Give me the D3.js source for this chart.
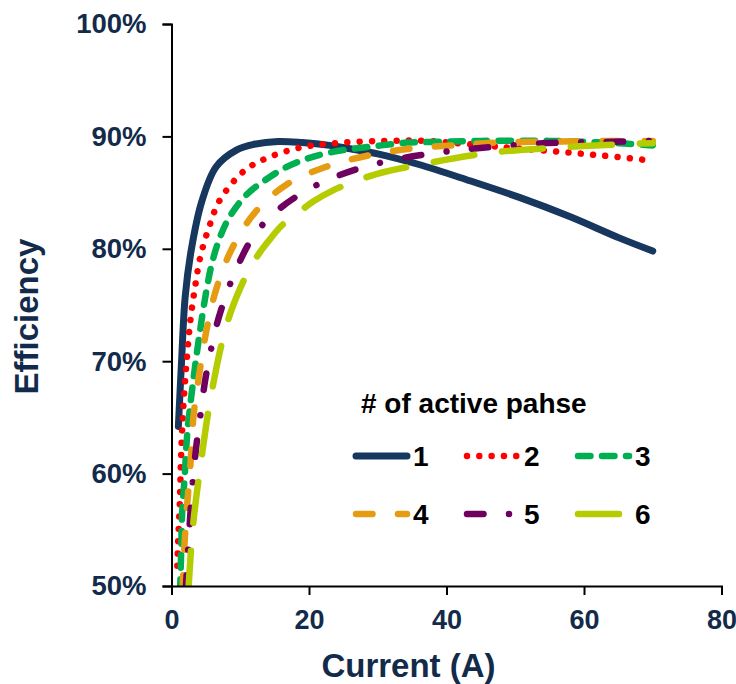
<!DOCTYPE html>
<html>
<head>
<meta charset="utf-8">
<script src="https://cdn.jsdelivr.net/npm/d3@7"></script>
<style>
  body { margin: 0; background: #fff; }
  svg text { font-family: "Liberation Sans", Arial, sans-serif; font-weight: bold; }
  .axis path, .axis line { stroke: #000; stroke-width: 2px; }
  .axis text { fill: #132b4a; font-size: 27.5px; }
  .xaxis text { font-size: 27px; }
</style>
</head>
<body>
<svg id="chart" width="736" height="684"></svg>
<script>

///////  Data: [current (A), efficiency (%)] ///////

var phase1 = [[1, 64.2], [1.45, 69.8], [2, 75.8], [2.9, 80], [4.4, 84.2], [6.5, 87.3], [9.5, 88.8],
    [12, 89.3], [15.5, 89.55], [19, 89.45], [23, 89.2], [26, 88.9], [30, 88.45], [36, 87.5],
    [43.4, 86.05], [50.7, 84.55], [58, 82.85], [65.2, 80.95], [70, 79.8]];
var phase2 = [[0.85, 51.8], [0.96, 53.9], [1.2, 57.3], [1.35, 60.6], [1.54, 63.8], [1.84, 67.1],
    [2.27, 70.5], [2.76, 73.7], [3.4, 76.5], [4.2, 79.3], [5.5, 82], [7, 84.3], [10.5, 86.9],
    [13.6, 88.0], [18.7, 89.0], [24, 89.4], [31, 89.6], [37, 89.6], [43.4, 89.3], [51, 88.9],
    [61.7, 88.35], [69, 87.9]];
var phase3 = [[1.25, 49.5], [1.4, 52.9], [1.55, 56.5], [1.9, 59.6], [2.3, 63.6], [3.15, 68.2],
    [4.1, 72.5], [5.2, 76.7], [6.0, 79.0], [7.1, 81.1], [8.5, 82.9], [10.9, 84.8], [13.6, 86.1],
    [16.5, 87.2], [19.6, 88.0], [23.3, 88.6], [27, 88.95], [30.5, 89.2], [34.2, 89.45], [38, 89.5],
    [45, 89.6], [55, 89.6], [63, 89.45], [70, 89.2]];
var phase4 = [[1.6, 49.5], [1.9, 53.8], [2.3, 57.4], [2.8, 61.2], [3.2, 65.1], [3.95, 68.5],
    [5.1, 72.8], [6.5, 76.4], [8.7, 79.9], [12.1, 83.2], [16.7, 85.7], [22.5, 87.3], [28.6, 88.3],
    [34.7, 88.9], [41, 89.2], [47.5, 89.45], [56, 89.55], [65, 89.6], [70, 89.6]];
var phase5 = [[2.05, 49.5], [2.35, 52.5], [2.7, 56], [3.1, 59.3], [3.6, 62.4], [4.2, 65.2],
    [4.9, 68.3], [5.7, 70.9], [6.6, 73.3], [8, 76], [9.5, 78.3], [11.9, 81.1], [15, 83.2],
    [19.1, 85.0], [23.4, 86.3], [28.1, 87.3], [33, 88.0], [38, 88.5], [42.8, 88.85], [47.6, 89.1],
    [52.6, 89.35], [57.7, 89.45], [63, 89.5], [70, 89.6]];
var phase6 = [[2.45, 49.5], [3.1, 55.2], [4.35, 61.3], [5.8, 67.1], [8, 73.2], [10, 76.5],
    [12, 78.9], [14, 80.6], [16, 82.05], [18, 83.0], [20.6, 84.2], [23.5, 85.2], [26.7, 86.0],
    [29.8, 86.65], [36.2, 87.5], [45.8, 88.5], [55.8, 89.0], [65.7, 89.3], [70, 89.4]];

var seriesNames = ["1", "2", "3", "4", "5", "6"];
var xTicks = [0, 20, 40, 60, 80];
var yTicks = [50, 60, 70, 80, 90, 100];

// line look for each series (Excel dash styles)
var styles = [
    {color: "#17375e", width: 7, dash: null},
    {color: "#ff0000", width: 6.5, dash: "0.01 12.3"},
    {color: "#00b050", width: 6.5, dash: "12.5 11.5"},
    {color: "#e69c12", width: 6.5, dash: "16.5 25.5"},
    {color: "#700060", width: 6.5, dash: "16.5 25.5 0.01 25.5"},
    {color: "#b4cc00", width: 6.5, dash: "41 28"}
];

var allSeries = [phase1, phase2, phase3, phase4, phase5, phase6];


///////  Frame ///////

var svg = d3.select("#chart"),
margin = {top: 24, left: 171.5},
width = 550,
height = 562;

var x = d3.scaleLinear().domain([0, 80]).range([margin.left, margin.left + width]),
y = d3.scaleLinear().domain([50, 100]).range([margin.top + height, margin.top]);

svg.append("defs").append("clipPath")
.attr("id", "clip")
.append("rect")
.attr("x", margin.left)
.attr("y", margin.top)
.attr("width", width)
.attr("height", height);

var line = d3.line()
            .curve(d3.curveCatmullRom.alpha(0.5))
            .x(function(d) { return x(d[0]); })
            .y(function(d) { return y(d[1]); });


///////  Curves ///////

var plot = svg.append("g").attr("clip-path", "url(#clip)");

allSeries.forEach(function(data, i) {
    plot.append("path")
        .datum(data)
        .attr("fill", "none")
        .attr("stroke", styles[i].color)
        .attr("stroke-width", styles[i].width)
        .attr("stroke-linecap", "round")
        .attr("stroke-linejoin", "round")
        .attr("stroke-dasharray", styles[i].dash)
        .attr("d", line);
});


///////  Axes ///////

svg.append("g")
    .attr("class", "axis xaxis")
    .attr("transform", "translate(0," + (margin.top + height) + ")")
    .call(d3.axisBottom(x).tickValues(xTicks).tickSize(9).tickPadding(15));

svg.append("g")
    .attr("class", "axis")
    .attr("transform", "translate(" + margin.left + ",0)")
    .call(d3.axisLeft(y).tickValues(yTicks).tickSize(9).tickPadding(16)
        .tickFormat(function(d) { return d + "%"; }));

svg.append("text")
    .attr("x", 408.5)
    .attr("y", 677)
    .attr("text-anchor", "middle")
    .attr("font-size", "33px")
    .attr("fill", "#132b4a")
    .text("Current (A)");

svg.append("text")
    .attr("transform", "translate(38,316.5) rotate(-90)")
    .attr("text-anchor", "middle")
    .attr("font-size", "33px")
    .attr("fill", "#132b4a")
    .text("Efficiency");


///////  Legend ///////

var legend = svg.append("g");

legend.append("text")
    .attr("x", 361)
    .attr("y", 413)
    .attr("font-size", "28px")
    .attr("fill", "#000")
    .text("# of active pahse");

seriesNames.forEach(function(name, i) {
    var col = i % 3, row = Math.floor(i / 3);
    var x0 = 356 + col * 111, ly = 456 + row * 58;
    legend.append("line")
        .attr("x1", x0).attr("x2", x0 + 51)
        .attr("y1", ly).attr("y2", ly)
        .attr("stroke", styles[i].color)
        .attr("stroke-width", styles[i].width)
        .attr("stroke-linecap", "round")
        .attr("stroke-dasharray", styles[i].dash);
    legend.append("text")
        .attr("x", x0 + 57)
        .attr("y", ly + 10)
        .attr("font-size", "28px")
        .attr("fill", "#000")
        .text(name);
});

</script>
</body>
</html>
